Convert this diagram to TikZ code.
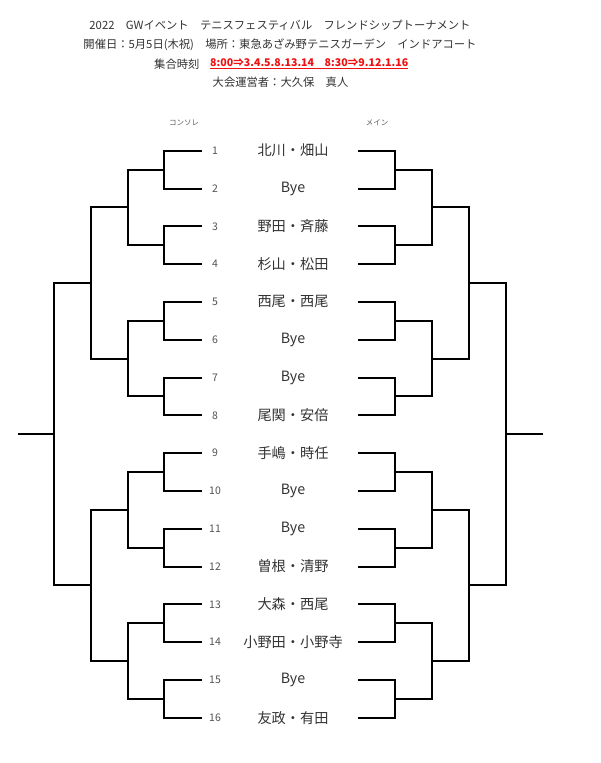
\documentclass[tikz,border=0pt]{standalone}
\usepackage{fontspec}
\setmainfont{Noto Sans CJK JP}
\definecolor{txt}{HTML}{333333}
\definecolor{redtxt}{HTML}{F01010}
\begin{document}
\begin{tikzpicture}[x=1pt,y=-1pt,
  br/.style={line width=2pt,black},
  hdr/.style={inner sep=0pt,font=\fontsize{11.3}{13}\selectfont,text=txt},
  redhdr/.style={inner sep=0pt,font=\fontsize{10.6}{13}\selectfont\bfseries,text=redtxt},
  num/.style={inner sep=0pt,font=\fontsize{10.5}{12}\selectfont,text=txt!85},
  nm/.style={inner sep=0pt,font=\fontsize{14.2}{16}\selectfont,text=txt},
  small/.style={inner sep=0pt,font=\fontsize{7.5}{9}\selectfont,text=txt!80}]
\useasboundingbox[fill=white] (0,0) rectangle (600,763);

% header
\node[hdr] (h1) at (280,25.7) {2022　GWイベント　テニスフェスティバル　フレンドシップトーナメント};
\node[hdr] (h2) at (280,45) {開催日：5月5日(木祝)　場所：東急あざみ野テニスガーデン　インドアコート};
\node[hdr,anchor=west] (h3) at (154,64) {集合時刻};
\node[redhdr,anchor=west] (h3r) at (210,64) {\underline{8:00⇒3.4.5.8.13.14　8:30⇒9.12.1.16}};
\node[hdr] (h4) at (280.5,82.7) {大会運営者：大久保　真人};

\node[small] (cons) at (184,122.7) {コンソレ};
\node[small] (main) at (377,122.7) {メイン};

% columns
\coordinate (cl1) at (164,0);
\coordinate (cl2) at (128,0);
\coordinate (cl3) at (91,0);
\coordinate (cl4) at (54,0);
\coordinate (cr1) at (395,0);
\coordinate (cr2) at (432,0);
\coordinate (cr3) at (469,0);
\coordinate (cr4) at (506,0);

% entries
\foreach \nmtext [count=\i] in {北川・畑山,Bye,野田・斉藤,杉山・松田,西尾・西尾,Bye,Bye,尾関・安倍,手嶋・時任,Bye,Bye,曽根・清野,大森・西尾,小野田・小野寺,Bye,友政・有田} {
  \pgfmathsetmacro\yy{round(150.7+(\i-1)*37.8)}
  \coordinate (la\i) at (202,\yy);
  \coordinate (ra\i) at (358,\yy);
  \node[num] (k\i) at (215,150.7+\i*37.8-37.8) {\i};
  \node[nm] (n\i) at (293,150.7+\i*37.8-37.8) {\nmtext};
}
% junction coordinates
\foreach \k in {1,...,8} {
  \pgfmathsetmacro\yy{round(150.7+(2*\k-1.5)*37.8)}
  \coordinate (lb\k) at (164,\yy);
  \coordinate (rb\k) at (395,\yy);
}
\foreach \k in {1,...,4} {
  \pgfmathsetmacro\yy{round(150.7+(4*\k-2.5)*37.8)}
  \coordinate (lc\k) at (128,\yy);
  \coordinate (rc\k) at (432,\yy);
}
\foreach \k in {1,2} {
  \pgfmathsetmacro\yy{round(150.7+(8*\k-4.5)*37.8)}
  \coordinate (ld\k) at (91,\yy);
  \coordinate (rd\k) at (469,\yy);
}
\pgfmathsetmacro\yy{round(150.7+7.5*37.8)}
\coordinate (le) at (54,\yy);
\coordinate (re) at (506,\yy);

% round 1
\foreach \k in {1,...,8} {
  \pgfmathtruncatemacro\i{2*\k-1}
  \pgfmathtruncatemacro\j{2*\k}
  \draw[br] (la\i) -- (la\i -| cl1) -- (la\j -| cl1) -- (la\j);
  \draw[br] (ra\i) -- (ra\i -| cr1) -- (ra\j -| cr1) -- (ra\j);
}
% round 2
\foreach \k in {1,...,4} {
  \pgfmathtruncatemacro\i{2*\k-1}
  \pgfmathtruncatemacro\j{2*\k}
  \draw[br] (lb\i) -- (lb\i -| cl2) -- (lb\j -| cl2) -- (lb\j);
  \draw[br] (rb\i) -- (rb\i -| cr2) -- (rb\j -| cr2) -- (rb\j);
}
% round 3
\foreach \k in {1,2} {
  \pgfmathtruncatemacro\i{2*\k-1}
  \pgfmathtruncatemacro\j{2*\k}
  \draw[br] (lc\i) -- (lc\i -| cl3) -- (lc\j -| cl3) -- (lc\j);
  \draw[br] (rc\i) -- (rc\i -| cr3) -- (rc\j -| cr3) -- (rc\j);
}
% round 4
\draw[br] (ld1) -- (ld1 -| cl4) -- (ld2 -| cl4) -- (ld2);
\draw[br] (rd1) -- (rd1 -| cr4) -- (rd2 -| cr4) -- (rd2);
% final stubs
\coordinate (lend) at (18,0);
\coordinate (rend) at (543,0);
\draw[br] (le) -- (le -| lend);
\draw[br] (re) -- (re -| rend);
\end{tikzpicture}
\end{document}
